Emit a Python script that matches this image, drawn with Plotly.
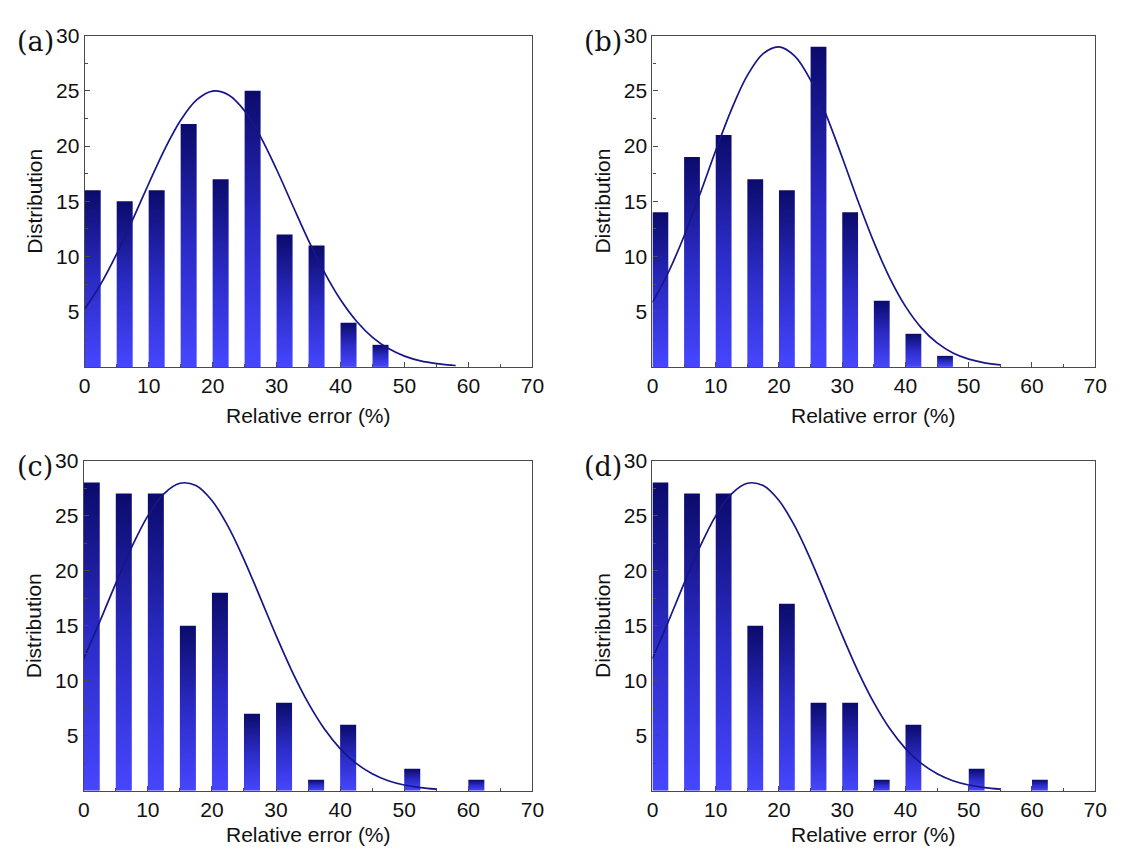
import plotly.graph_objects as go

# ---------------- data ----------------
bin_left = [0, 5, 10, 15, 20, 25, 30, 35, 40, 45, 50, 55, 60]

counts_a = [16, 15, 16, 22, 17, 25, 12, 11, 4, 2]
counts_b = [14, 19, 21, 17, 16, 29, 14, 6, 3, 1]
counts_c = [28, 27, 27, 15, 18, 7, 8, 1, 6, 0, 2, 0, 1]
counts_d = [28, 27, 27, 15, 17, 8, 8, 1, 6, 0, 2, 0, 1]

fit_x_a = [0, 2.5, 5, 7.5, 10, 12.5, 15, 17.5, 20, 22.5, 25, 27.5, 30, 32.5,
           35, 37.5, 40, 42.5, 45, 47.5, 50, 52.5, 55, 57.5, 58]
fit_y_a = [5.24, 7.50, 10.24, 13.34, 16.59, 19.71, 22.34, 24.18, 24.98, 24.63,
           23.19, 20.84, 17.88, 14.64, 11.44, 8.54, 6.08, 4.14, 2.68, 1.66,
           0.98, 0.55, 0.30, 0.15, 0.13]

fit_x_b = [0, 2.5, 5, 7.5, 10, 12.5, 15, 17.5, 20, 22.5, 25, 27.5, 30, 32.5,
           35, 37.5, 40, 42.5, 45, 47.5, 50, 52.5, 55]
fit_y_b = [5.85, 8.55, 11.86, 15.64, 19.60, 23.33, 26.40, 28.38, 28.99, 28.15,
           25.97, 22.76, 18.97, 15.01, 11.30, 8.07, 5.48, 3.54, 2.17, 1.26,
           0.70, 0.37, 0.18]

fit_x_c = [0, 2.5, 5, 7.5, 10, 12.5, 15, 17.5, 20, 22.5, 25, 27.5, 30, 32.5,
           35, 37.5, 40, 42.5, 45, 47.5, 50, 52.5, 55]
fit_y_c = [12.00, 15.36, 18.85, 22.16, 24.98, 26.98, 27.94, 27.73, 26.37, 24.04,
           21.01, 17.60, 14.12, 10.86, 8.01, 5.66, 3.84, 2.49, 1.55, 0.92,
           0.53, 0.29, 0.15]

fit_x_d = fit_x_c
fit_y_d = [12.00, 15.36, 18.85, 22.16, 24.98, 26.98, 27.94, 27.73, 26.37, 24.04,
           21.01, 17.60, 14.12, 10.86, 8.01, 5.66, 3.84, 2.49, 1.55, 0.92,
           0.53, 0.29, 0.15]

panel_labels = ["(a)", "(b)", "(c)", "(d)"]
x_title = "Relative error (%)"
y_title = "Distribution"
x_ticks = [0, 10, 20, 30, 40, 50, 60, 70]
y_ticks = [5, 10, 15, 20, 25, 30]

# ---------------- style ----------------
W, H = 1123, 849
BAR_W = 2.5
GRAD = [[0.0, "#4646ff"], [0.5, "#2b2bc6"], [1.0, "#0b0b6c"]]
CURVE_COLOR = "#161688"
AXIS_COLOR = "#4a4a4a"
TICK_FONT = dict(family="Liberation Sans, Arial, sans-serif", size=21, color="#111111")
TITLE_FONT = dict(family="Liberation Sans, Arial, sans-serif", size=21, color="#111111")
LABEL_FONT = dict(family="DejaVu Serif, Liberation Serif, serif", size=27, color="#111111")

# pixel boxes for each panel: left, right, top, bottom, x-title centre
boxes = [
    (80, 535, 24, 360, 409),
    (657, 1107, 24, 360, 409),
    (79, 535, 455, 790, 834),
    (657, 1107, 455, 790, 834),
]

panels = [
    (counts_a, fit_x_a, fit_y_a),
    (counts_b, fit_x_b, fit_y_b),
    (counts_c, fit_x_c, fit_y_c),
    (counts_d, fit_x_d, fit_y_d),
]

fig = go.Figure()
annotations = []

for i, ((counts, fx, fy), (l, r, t, b, ty)) in enumerate(zip(panels, boxes)):
    n = i + 1
    xa = "x" if n == 1 else f"x{n}"
    ya = "y" if n == 1 else f"y{n}"

    # gradient bars (one filled polygon per bin so each has its own gradient)
    for left, c in zip(bin_left, counts):
        if c <= 0:
            continue
        right = left + BAR_W
        fig.add_trace(go.Scatter(
            x=[left, left, right, right, left],
            y=[0, c, c, 0, 0],
            mode="lines", fill="toself",
            line=dict(width=0, color="rgba(0,0,0,0)"),
            fillgradient=dict(type="vertical", colorscale=GRAD),
            xaxis=xa, yaxis=ya, showlegend=False, hoverinfo="skip",
        ))

    # fitted curve
    fig.add_trace(go.Scatter(
        x=fx, y=fy, mode="lines",
        line=dict(color=CURVE_COLOR, width=1.7, shape="spline"),
        xaxis=xa, yaxis=ya, showlegend=False, hoverinfo="skip",
    ))

    xdom = [l / W, r / W]
    ydom = [1 - b / H, 1 - t / H]
    common = dict(
        showline=True, mirror=True, linecolor=AXIS_COLOR, linewidth=1.3,
        ticks="inside", ticklen=5, tickwidth=1.2, tickcolor=AXIS_COLOR,
        showgrid=False, zeroline=False, tickfont=TICK_FONT,
    )
    fig.layout[f"xaxis{'' if n == 1 else n}"] = dict(
        domain=xdom, anchor=ya, range=[0, 70],
        tickmode="array", tickvals=x_ticks,
        minor=dict(ticks="inside", ticklen=3, tickcolor=AXIS_COLOR, dtick=5, tick0=0),
        **common,
    )
    fig.layout[f"yaxis{'' if n == 1 else n}"] = dict(
        domain=ydom, anchor=xa, range=[0, 30],
        tickmode="array", tickvals=y_ticks,
        minor=dict(ticks="inside", ticklen=3, tickcolor=AXIS_COLOR, dtick=2.5, tick0=0),
        **common,
    )

    # axis titles and panel labels
    annotations.append(dict(
        text=x_title, xref="paper", yref="paper",
        x=(l + r) / 2 / W, y=1 - ty / H,
        showarrow=False, font=TITLE_FONT, xanchor="center", yanchor="middle",
    ))
    annotations.append(dict(
        text=y_title, xref="paper", yref="paper",
        x=(l - 51) / W, y=1 - (t + b) / 2 / H, textangle=-90,
        showarrow=False, font=TITLE_FONT, xanchor="center", yanchor="middle",
    ))
    annotations.append(dict(
        text=panel_labels[i], xref="paper", yref="paper",
        x=(l - 50) / W, y=1 - (t + 6) / H,
        showarrow=False, font=LABEL_FONT, xanchor="center", yanchor="middle",
    ))

fig.update_layout(
    width=W, height=H,
    margin=dict(l=0, r=0, t=0, b=0),
    paper_bgcolor="white", plot_bgcolor="white",
    annotations=annotations,
    showlegend=False,
)

fig.write_html("out.html")
